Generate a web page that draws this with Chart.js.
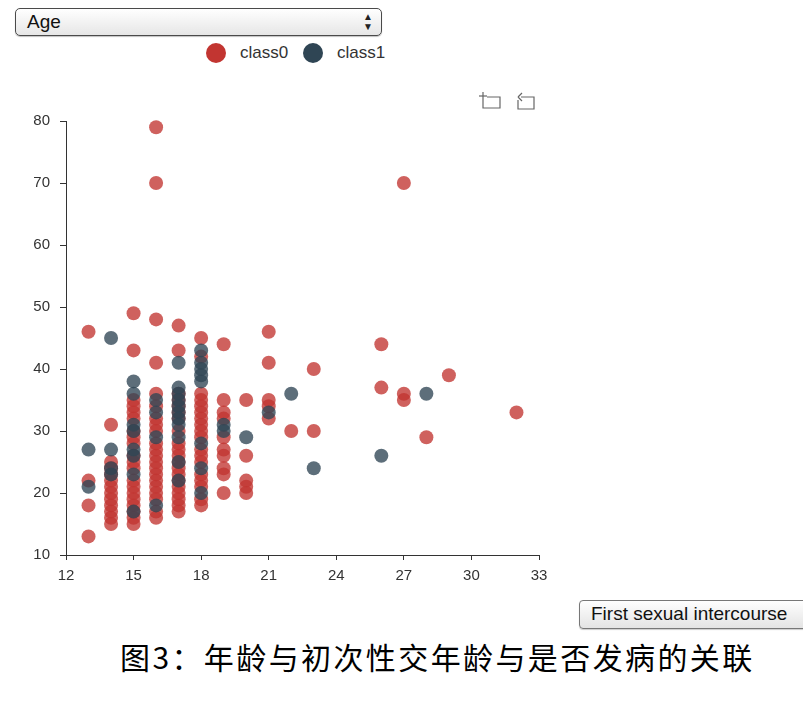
<!DOCTYPE html>
<html><head><meta charset="utf-8">
<script src="https://cdn.jsdelivr.net/npm/chart.js@4.4.1/dist/chart.umd.min.js"></script>
<style>
html,body{margin:0;padding:0;background:#fff;width:803px;height:717px;overflow:hidden;font-family:"Liberation Sans",Arial,sans-serif;}
#sel{position:absolute;left:15px;top:8px;width:365px;height:26px;border:1px solid #4a4a4a;border-radius:5px;background:linear-gradient(#ffffff,#e6e6e6);box-shadow:0 1px 1px rgba(0,0,0,.25);}
#sel .t{position:absolute;left:11px;top:2px;font-size:19px;color:#111;}
#sel .a{position:absolute;right:8px;top:3px;font-size:10px;line-height:10px;color:#222;}
.leg{position:absolute;top:43px;width:20px;height:20px;border-radius:50%;}
.legt{position:absolute;top:43px;font-size:17px;color:#333;}
#wrap{position:absolute;left:0;top:80px;width:560px;height:520px;}
#btn{position:absolute;left:579px;top:600px;width:240px;height:27px;border:1px solid #777;border-radius:4px;background:linear-gradient(#fefefe,#e4e4e4);box-shadow:0 1px 1px rgba(0,0,0,.2);}
#btn span{position:absolute;left:11px;top:2px;font-size:19px;color:#111;white-space:nowrap;}
#cap{position:absolute;left:120px;top:634px;font-size:30px;letter-spacing:2.4px;font-family:"Noto Sans CJK SC",sans-serif;color:#000;white-space:nowrap;}
#tools{position:absolute;left:478px;top:88px;}
</style></head>
<body>
<div id="sel"><span class="t">Age</span><span class="a">▲<br>▼</span></div>
<div class="leg" style="left:206px;background:#c23531"></div><span class="legt" style="left:240px">class0</span>
<div class="leg" style="left:303px;background:#2f4554"></div><span class="legt" style="left:337px">class1</span>
<svg id="tools" width="70" height="26" viewBox="0 0 70 26">
 <g fill="none" stroke="#666" stroke-width="1.2">
  <path d="M5 4 V20 H22 V9 H9"/><path d="M1 8 H9"/>
  <path d="M43 9 H56 V21 H40 V12"/><path d="M40 9 L44 5 M40 9 L44 13"/>
 </g>
</svg>
<div id="wrap"><canvas id="c"></canvas></div>
<div id="btn"><span>First sexual intercourse</span></div>
<div id="cap">图3：年龄与初次性交年龄与是否发病的关联</div>
<script>
const firstSexAges = [13,14,15,16,17,18,19,20,21,22,23,26,27,28,29,32];
const class0Ages = [
 [46,22,18,13],
 [31,25,24,23,22,21,20,19,18,17,16,15],
 [49,43,35,34,33,32,30,29,28,26,25,24,22,21,20,19,18,17,16,15],
 [79,70,48,41,36,34,32,31,30,28,27,26,25,24,23,22,21,20,19,17,16],
 [47,43,36,35,34,33,32,30,28,27,26,25,24,23,22,21,20,19,18,17],
 [45,42,36,35,34,33,32,31,30,29,27,26,25,23,22,21,19,18],
 [44,35,33,32,29,27,26,24,23,20],
 [35,26,22,21,20],
 [46,41,35,34,32],
 [30],
 [40,30],
 [44,37],
 [70,36,35],
 [29],
 [39],
 [33]
];
const class1Ages = [
 [27,21],
 [45,27,24,23],
 [38,36,31,30,27,26,23,17],
 [35,33,29,18],
 [41,37,36,35,34,33,32,31,29,25,22],
 [43,41,40,39,38,28,24,20],
 [31,30],
 [29],
 [33],
 [36],
 [24],
 [26],
 [],
 [36],
 [],
 []
];
const xTicks = [12,15,18,21,24,27,30,33];
const yTicks = [10,20,30,40,50,60,70,80];
const seriesNames = ['class0','class1'];

function toPoints(groups){
  const pts=[];
  groups.forEach((g,i)=>g.forEach(v=>pts.push({x:firstSexAges[i],y:v})));
  return pts;
}
const tickFont = {family:'"Liberation Sans", Arial, sans-serif', size:15};
new Chart(document.getElementById('c'),{
  type:'scatter',
  data:{datasets:[
    {label:seriesNames[0],data:toPoints(class0Ages),backgroundColor:'rgba(194,53,49,0.78)',borderWidth:0,pointRadius:7,pointHoverRadius:7,order:2,clip:false},
    {label:seriesNames[1],data:toPoints(class1Ages),backgroundColor:'rgba(47,69,84,0.78)',borderWidth:0,pointRadius:7,pointHoverRadius:7,order:1,clip:false}
  ]},
  options:{
    responsive:true,maintainAspectRatio:false,animation:false,
    events:[],
    layout:{padding:{top:41,right:21,bottom:15,left:0}},
    plugins:{legend:{display:false},tooltip:{enabled:false}},
    scales:{
      x:{type:'linear',min:12,max:33,
        afterBuildTicks:s=>{s.ticks=xTicks.map(v=>({value:v}));},
        afterFit:s=>{s.height=30;},
        ticks:{font:tickFont,color:'#333',padding:7},
        grid:{display:true,drawOnChartArea:false,drawTicks:true,tickLength:5,color:'#333',lineWidth:1},
        border:{display:true,color:'#333',width:1}},
      y:{type:'linear',min:10,max:80,
        afterBuildTicks:s=>{s.ticks=yTicks.map(v=>({value:v}));},
        afterFit:s=>{s.width=66;},
        ticks:{font:tickFont,color:'#333',padding:10},
        grid:{display:true,drawOnChartArea:false,drawTicks:true,tickLength:6,color:'#333',lineWidth:1},
        border:{display:true,color:'#333',width:1}}
    }
  }
});
</script>
</body></html>
